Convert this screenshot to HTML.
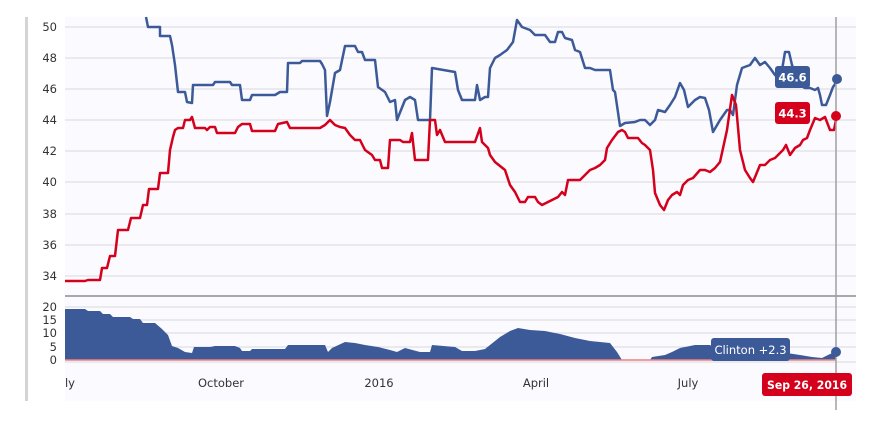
<!DOCTYPE html>
<html><head><meta charset="utf-8"><style>
body{margin:0;background:#fff;width:877px;height:419px;overflow:hidden;font-family:"DejaVu Sans",sans-serif}
</style></head><body>
<svg width="877" height="419" xmlns="http://www.w3.org/2000/svg" font-family="DejaVu Sans, sans-serif">
<rect x="25" y="17" width="3" height="384" fill="#d4d4d4"/>
<rect x="65" y="17" width="791" height="384" fill="#fafaff"/>
<g stroke="#d8d8de" stroke-width="1">
<line x1="65" x2="856" y1="27" y2="27"/><line x1="65" x2="856" y1="58" y2="58"/>
<line x1="65" x2="856" y1="89" y2="89"/><line x1="65" x2="856" y1="120" y2="120"/>
<line x1="65" x2="856" y1="151" y2="151"/><line x1="65" x2="856" y1="182" y2="182"/>
<line x1="65" x2="856" y1="214" y2="214"/><line x1="65" x2="856" y1="245" y2="245"/>
<line x1="65" x2="856" y1="276" y2="276"/>
<line x1="65" x2="856" y1="307" y2="307"/><line x1="65" x2="856" y1="320" y2="320"/>
<line x1="65" x2="856" y1="333" y2="333"/><line x1="65" x2="856" y1="347" y2="347"/>
<line x1="65" x2="856" y1="362" y2="362"/>
</g>
<line x1="65" x2="856" y1="296" y2="296" stroke="#a8a8a8" stroke-width="2"/>
<g font-size="11.5" fill="#333" text-anchor="end">
<text x="57" y="31">50</text><text x="57" y="62">48</text><text x="57" y="93">46</text>
<text x="57" y="124">44</text><text x="57" y="155">42</text><text x="57" y="186">40</text>
<text x="57" y="218">38</text><text x="57" y="249">36</text><text x="57" y="280">34</text>
<text x="57" y="311">20</text><text x="57" y="324">15</text><text x="57" y="337">10</text>
<text x="57" y="351">5</text><text x="57" y="364">0</text>
</g>
<polygon fill="#3d5a98" points="65,360 65,309 85,309 88,311 100,311 103,314 110,314 113,317 130,317 133,319 140,319 143,323 155,323 162,329 168,335 172,346 178,348 185,352 192,353 194,347 210,347 215,346 235,346 240,348 242,351 250,351 252,349 285,349 288,345 325,345 328,352 332,348 345,342 355,343 365,345 378,347 390,350 397,352 405,348 420,352 430,352 432,345 455,347 462,351 475,351 485,349 490,345 500,337 510,331 518,328 530,330 545,331 560,334 575,338 590,341 610,343 617,352 622,360 650,360 652,357 665,355 672,352 680,348 695,345 710,345 713,347 730,349 760,351 780,352 800,355 812,357 822,358 830,354 836,352 836,360"/>
<line x1="65" x2="836" y1="360" y2="360" stroke="#f08080" stroke-width="1.5"/>
<polyline fill="none" stroke="#3d5a98" stroke-width="2.5" stroke-linejoin="round" points="146,17 148,27 160,27 160,36 170,36 172,45 175,65 178,92 185,92 187,102 192,103 193,85 213,85 215,82 230,82 232,85 240,85 242,100 250,100 252,95 275,95 280,92 287,92 288,63 300,63 302,61 320,61 322,64 325,70 327,116 330,102 335,73 340,70 345,46 355,46 358,52 362,52 365,60 375,60 378,87 385,92 390,102 395,100 397,120 405,100 410,97 415,100 418,120 430,120 432,68 455,72 458,90 462,100 475,100 477,85 480,100 485,97 488,97 490,68 495,58 500,55 507,50 513,42 517,20 522,27 530,30 535,35 545,35 550,42 555,42 558,32 562,32 565,38 572,40 575,50 580,52 585,68 590,68 595,70 610,70 613,90 615,92 620,126 625,123 635,122 640,120 645,120 650,125 655,120 658,110 665,112 670,105 675,97 680,83 684,90 688,107 695,100 700,97 705,98 709,110 713,132 720,120 727,110 730,110 733,115 737,85 742,68 750,65 755,58 760,65 765,62 770,68 775,75 782,70 785,52 789,52 792,65 800,85 805,88 810,88 815,90 818,88 820,95 822,105 826,105 830,95 833,87 838,80"/>
<polyline fill="none" stroke="#d5001c" stroke-width="2.5" stroke-linejoin="round" points="65,281 85,281 88,280 100,280 102,268 107,268 110,256 115,256 118,230 128,230 131,218 140,218 143,205 147,205 149,189 158,189 160,173 168,173 170,150 173,137 175,130 178,128 183,128 185,120 190,120 192,117 195,128 205,128 207,130 210,127 215,127 217,133 235,133 238,127 242,124 250,124 252,131 275,131 278,124 287,122 290,128 320,128 325,125 330,120 335,125 340,127 345,128 350,135 355,140 360,140 365,150 372,155 375,160 380,160 382,168 388,168 390,140 400,140 403,142 410,142 412,133 415,160 428,160 430,120 435,120 437,135 440,130 445,142 475,142 480,128 482,142 485,145 488,148 490,155 495,162 505,170 510,185 515,192 520,202 525,202 528,197 535,197 538,202 542,205 548,202 552,200 558,197 562,192 565,195 568,180 580,180 585,175 590,170 595,168 600,165 605,160 607,148 612,140 618,132 622,130 625,132 628,138 638,138 642,143 645,145 650,150 653,170 655,193 660,205 664,210 668,200 672,195 677,192 680,195 683,185 688,180 693,178 700,170 705,170 710,172 715,168 720,162 727,130 732,95 736,105 740,150 745,170 750,178 753,182 760,165 765,165 770,160 775,158 783,150 786,145 790,155 795,148 800,145 803,140 807,138 810,130 815,118 820,120 825,117 830,130 834,130 837,115"/>
<line x1="836" x2="836" y1="17" y2="410" stroke="#a0a0a0" stroke-width="1.5"/>
<circle cx="837" cy="79" r="5" fill="#3d5a98"/>
<circle cx="836" cy="116" r="5" fill="#d5001c"/>
<circle cx="836" cy="352" r="5" fill="#3d5a98"/>
<rect x="775" y="66" width="35" height="22" rx="3" fill="#3d5a98"/>
<text x="792.5" y="81.5" font-size="11.5" fill="#fff" text-anchor="middle" font-weight="bold">46.6</text>
<rect x="775" y="102" width="35" height="22" rx="3" fill="#d5001c"/>
<text x="792.5" y="117.5" font-size="11.5" fill="#fff" text-anchor="middle" font-weight="bold">44.3</text>
<rect x="711" y="338" width="79" height="23" rx="3" fill="#3d5a98"/>
<text x="750.5" y="354" font-size="11.5" fill="#fff" text-anchor="middle">Clinton +2.3</text>
<rect x="762" y="373" width="90" height="23" rx="3" fill="#d5001c"/>
<text x="807" y="389" font-size="11.5" fill="#fff" text-anchor="middle" font-weight="bold" textLength="80" lengthAdjust="spacingAndGlyphs">Sep 26, 2016</text>
<g font-size="11.5" fill="#333" text-anchor="middle">
<text x="70" y="387">ly</text><text x="221" y="387">October</text><text x="379" y="387">2016</text>
<text x="536" y="387">April</text><text x="688" y="387">July</text>
</g>
</svg>
</body></html>
